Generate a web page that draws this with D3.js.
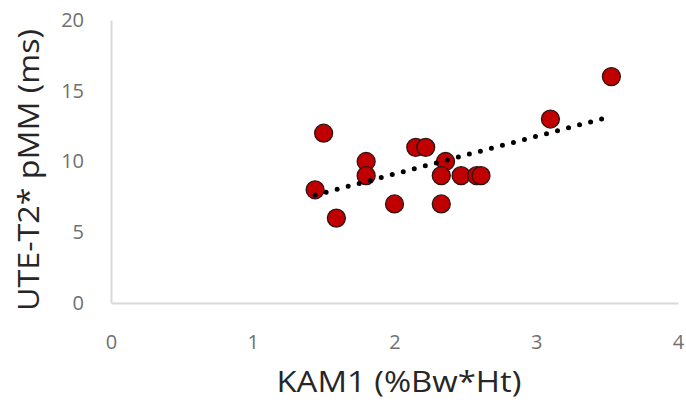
<!DOCTYPE html>
<html>
<head>
<meta charset="utf-8">
<script src="https://cdn.jsdelivr.net/npm/d3@7"></script>
<style>
  body { margin: 0; background: #fff; }
  text { font-family: "Open Sans", Lato, sans-serif; }
</style>
</head>
<body>
<svg id="drawing_region"></svg>
<script>
// KAM1 (x) vs UTE-T2* pMM (y)
const kam1 = [1.50, 1.80, 1.80, 1.44, 1.59, 2.00, 2.15, 2.22, 2.36, 2.33, 2.33, 2.47, 2.58, 2.61, 3.10, 3.53];
const t2pmm = [12, 10, 9, 8, 6, 7, 11, 11, 10, 9, 7, 9, 9, 9, 13, 16];
const xTicks = [0, 1, 2, 3, 4];
const yTicks = [0, 5, 10, 15, 20];
const xTitle = 'KAM1 (%Bw*Ht)';
const yTitle = 'UTE-T2* pMM (ms)';

const config = {
    width: 686,
    height: 403,
    left: 111, right: 678, top: 20, bottom: 303
};

const data = kam1.map((d, i) => ({ x: d, y: t2pmm[i] }));

const svg = d3.select('#drawing_region')
    .attr('width', config.width)
    .attr('height', config.height);

const xscale = d3.scaleLinear().domain([0, 4]).range([config.left, config.right]);
const yscale = d3.scaleLinear().domain([0, 20]).range([config.bottom, config.top]);

// axes
svg.append('g')
    .attr('transform', `translate(0, ${config.bottom})`)
    .call(d3.axisBottom(xscale).tickValues(xTicks).tickSize(0).tickPadding(32).tickFormat(d3.format('d')));

svg.append('g')
    .attr('transform', `translate(${config.left}, 0)`)
    .call(d3.axisLeft(yscale).tickValues(yTicks).tickSize(0).tickPadding(27).tickFormat(d3.format('d')));

svg.selectAll('.domain')
    .attr('stroke', '#d9d9d9')
    .attr('stroke-width', 2);

svg.selectAll('.tick text')
    .attr('fill', '#707070')
    .style('font-size', '20px');

// linear trendline (least squares)
const mx = d3.mean(data, d => d.x), my = d3.mean(data, d => d.y);
const slope = d3.sum(data, d => (d.x - mx) * (d.y - my)) / d3.sum(data, d => (d.x - mx) ** 2);
const icpt = my - slope * mx;
const xext = d3.extent(data, d => d.x);

// points
svg.append('g').selectAll('circle')
    .data(data)
    .enter()
    .append('circle')
    .attr('cx', d => xscale(d.x))
    .attr('cy', d => yscale(d.y))
    .attr('r', 9)
    .attr('fill', '#c00000')
    .attr('stroke', '#2e1414')
    .attr('stroke-width', 1.3);

svg.append('line')
    .attr('x1', xscale(xext[0]))
    .attr('y1', yscale(icpt + slope * xext[0]))
    .attr('x2', xscale(xext[1]))
    .attr('y2', yscale(icpt + slope * xext[1]))
    .attr('stroke', '#000')
    .attr('stroke-width', 5)
    .attr('stroke-linecap', 'round')
    .attr('stroke-dasharray', '0 11.4');

// titles
svg.append('text')
    .attr('x', 399)
    .attr('y', 392)
    .attr('text-anchor', 'middle')
    .attr('fill', '#262626')
    .attr('textLength', 245)
    .attr('lengthAdjust', 'spacingAndGlyphs')
    .style('font-size', '29px')
    .text(xTitle);

svg.append('text')
    .attr('transform', 'translate(39, 170) rotate(-90)')
    .attr('text-anchor', 'middle')
    .attr('fill', '#262626')
    .attr('textLength', 282)
    .attr('lengthAdjust', 'spacingAndGlyphs')
    .style('font-size', '29px')
    .text(yTitle);
</script>
</body>
</html>
